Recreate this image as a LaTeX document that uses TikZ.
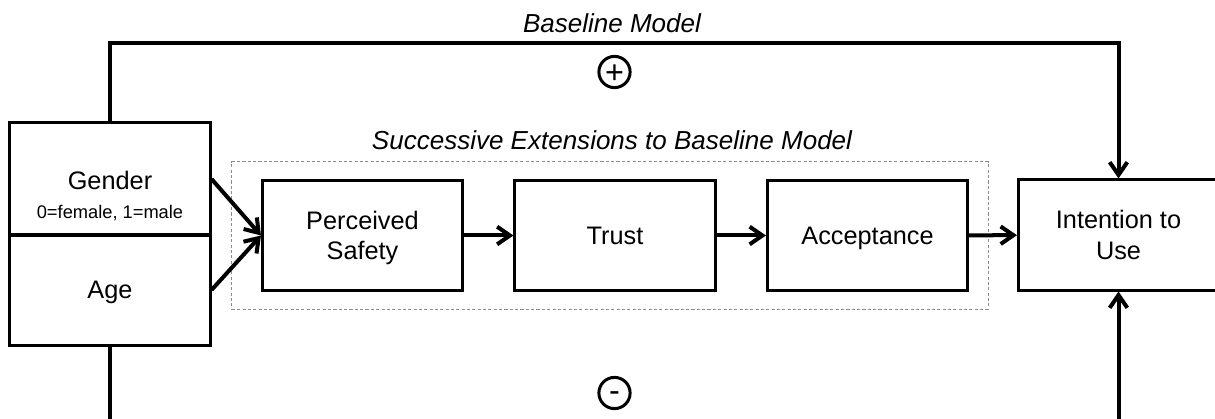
\documentclass[tikz,border=0pt]{standalone}
\usepackage{fontspec}
\setmainfont{Liberation Sans}
\usetikzlibrary{arrows.meta}
\definecolor{framegray}{HTML}{8C8C8C}

\begin{document}
\begin{tikzpicture}[
    x=0.025cm, y=-0.025cm,
    box_node/.style={rectangle, draw, line width=0.075cm, minimum width=5cm, minimum height=2.75cm, inner sep=0pt, align=center, font=\fontsize{18}{21.6}\selectfont},
    flat_text/.style={text height=12.6pt, text depth=0pt},
    sign_node/.style={circle, draw, line width=0.075cm, minimum size=0.78cm, inner sep=0pt, text depth=0pt, font=\fontsize{23}{23}\selectfont},
    title_node/.style={font=\fontsize{18.5}{22}\selectfont\itshape},
    ext_frame/.style={rectangle, draw=framegray, line width=0.025cm, dash pattern=on 2.2pt off 1.6pt, minimum width=18.9cm, minimum height=3.675cm},
    link/.style={-{Straight Barb[length=3.2mm, width=4.4mm]}, line width=0.1cm}
]
    \useasboundingbox (0,0) rectangle (1215,419);
    \clip (0,0) rectangle (1215,419);

    \node[title_node] (base) at (612,23) {Baseline Model};
    \node[sign_node, text height=16.2pt] (plus) at (614.5,72) {+};
    \node[sign_node, text height=12.6pt] (minus) at (614.5,393) {-};

    \node[ext_frame] (ext) at (610,235.5) {};
    \node[title_node] (exttitle) at (612,140) {Successive Extensions to Baseline Model};

    \node[box_node, minimum height=2.8cm] (gender) at (110,179) {};
    \node[font=\fontsize{18}{21.6}\selectfont] (gendertxt) at (110,180) {Gender};
    \node[anchor=base, font=\fontsize{13}{15}\selectfont] (gendercode) at (110,219) {0=female, 1=male};
    \node[box_node, flat_text] (age) at (110,290) {Age};

    \node[box_node, text depth=0pt] (safety) at (362.5,235.5) {Perceived\\Safety};
    \node[box_node, flat_text] (trust) at (615,235.5) {Trust};
    \node[box_node, flat_text] (accept) at (867.5,235.5) {Acceptance};
    \node[box_node] (intent) at (1118.5,235) {Intention to\\Use};

    \draw [link] (gender.east) -- (safety.west);
    \draw [link] (age.east) -- (safety.west);
    \draw [link] (safety) -- (trust);
    \draw [link] (trust) -- (accept);
    \draw [link] (accept) -- (intent);
    \draw [link] (gender.north) -- ++(0,-78) -| (intent.north);
    \draw [link] (age.south) -- ++(0,100) -| (intent.south);
\end{tikzpicture}
\end{document}
